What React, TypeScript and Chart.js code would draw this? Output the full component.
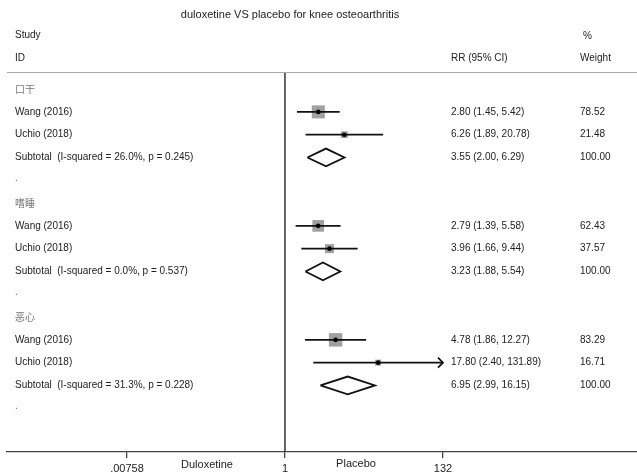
import React, { useEffect, useRef } from 'react';
import { Chart, registerables } from 'chart.js';

Chart.register(...registerables);

const TITLE = 'duloxetine VS placebo for knee osteoarthritis';
const GROUPS = ['口干', '嗜睡', '恶心'];
const STUDIES = ['Wang (2016)', 'Uchio (2018)'];
// per group: [Wang, Uchio]
const STUDY_RR = [2.80, 6.26, 2.79, 3.96, 4.78, 17.80];
const STUDY_LO = [1.45, 1.89, 1.39, 1.66, 1.86, 2.40];
const STUDY_HI = [5.42, 20.78, 5.58, 9.44, 12.27, 131.89];
const STUDY_W = [78.52, 21.48, 62.43, 37.57, 83.29, 16.71];
const SUB_RR = [3.55, 3.23, 6.95];
const SUB_LO = [2.00, 1.88, 2.99];
const SUB_HI = [6.29, 5.54, 16.15];
const SUB_LABELS = [
  'Subtotal  (I-squared = 26.0%, p = 0.245)',
  'Subtotal  (I-squared = 0.0%, p = 0.537)',
  'Subtotal  (I-squared = 31.3%, p = 0.228)',
];
const X_TICKS = [0.00758, 1, 132];
const X_TICK_LABELS = ['.00758', '1', '132'];
const X_LABEL_LEFT = 'Duloxetine';
const X_LABEL_RIGHT = 'Placebo';

const ROWS_PER_GROUP = 5;
const Y_MIN = -0.75;
const Y_MAX = 15.92;
const FONT = '"Liberation Sans", Arial, sans-serif';
const CJK = '"Noto Sans CJK SC", sans-serif';

const studyRow = (g: number, s: number) => g * ROWS_PER_GROUP + 1 + s;
const subRow = (g: number) => g * ROWS_PER_GROUP + 3;
const f2 = (v: number) => v.toFixed(2);

export default function App() {
  const ref = useRef<HTMLCanvasElement>(null);

  useEffect(() => {
    document.body.style.margin = '0';
    const canvas = ref.current!;
    const datasets: any[] = [];

    const dots: any[] = [];
    const squares: any[] = [];
    const radii: number[] = [];
    GROUPS.forEach((_, g) => {
      STUDIES.forEach((__, s) => {
        const i = g * STUDIES.length + s;
        const y = studyRow(g, s);
        dots.push({ x: STUDY_RR[i], y });
        squares.push({ x: STUDY_RR[i], y });
        radii.push(1.04 * Math.sqrt(STUDY_W[i]));
      });
    });

    datasets.push({
      data: dots,
      pointStyle: 'circle',
      pointRadius: 2.3,
      backgroundColor: '#000',
      borderWidth: 0,
      order: 0,
    });

    GROUPS.forEach((_, g) => {
      STUDIES.forEach((__, s) => {
        const i = g * STUDIES.length + s;
        const y = studyRow(g, s);
        datasets.push({
          data: [
            { x: STUDY_LO[i], y },
            { x: STUDY_HI[i], y },
          ],
          showLine: true,
          pointRadius: 0,
          borderColor: '#111',
          borderWidth: 1.8,
          order: 1,
        });
      });
      const y = subRow(g);
      const h = 0.39;
      datasets.push({
        data: [
          { x: SUB_LO[g], y },
          { x: SUB_RR[g], y: y - h },
          { x: SUB_HI[g], y },
          { x: SUB_RR[g], y: y + h },
          { x: SUB_LO[g], y },
        ],
        showLine: true,
        pointRadius: 0,
        borderColor: '#111',
        borderWidth: 1.8,
        borderJoinStyle: 'miter',
        fill: false,
        tension: 0,
        order: 1,
      });
    });

    datasets.push({
      data: squares,
      pointStyle: 'rect',
      pointRadius: radii,
      backgroundColor: '#a0a0a0',
      borderWidth: 0,
      order: 2,
    });

    datasets.push({
      data: [
        { x: 1, y: Y_MIN },
        { x: 1, y: Y_MAX },
      ],
      showLine: true,
      pointRadius: 0,
      borderColor: '#333',
      borderWidth: 1.5,
      order: 3,
    });

    const textPlugin = {
      id: 'forestText',
      afterDraw(chart: any) {
        const ctx = chart.ctx;
        const area = chart.chartArea;
        const xs = chart.scales.x;
        const ys = chart.scales.y;
        ctx.save();
        // header rule
        ctx.strokeStyle = '#aaa';
        ctx.lineWidth = 1;
        ctx.beginPath();
        ctx.moveTo(area.left, area.top + 0.5);
        ctx.lineTo(area.right, area.top + 0.5);
        ctx.stroke();

        ctx.fillStyle = '#222';
        ctx.textBaseline = 'middle';
        ctx.font = `11px ${FONT}`;
        ctx.textAlign = 'center';
        ctx.fillText(TITLE, 290, 15);

        ctx.textAlign = 'left';
        ctx.font = `10px ${FONT}`;
        ctx.fillText('Study', 15, 35);
        ctx.fillText('ID', 15, 58);
        ctx.fillText('%', 583, 36);
        ctx.fillText('RR (95% CI)', 451, 58);
        ctx.fillText('Weight', 580, 58);

        GROUPS.forEach((grp, g) => {
          const yh = ys.getPixelForValue(g * ROWS_PER_GROUP);
          ctx.fillStyle = '#777';
          ctx.font = `10px ${CJK}`;
          ctx.fillText(grp, 15, yh);
          ctx.fillStyle = '#222';
          ctx.font = `10px ${FONT}`;
          STUDIES.forEach((name, s) => {
            const i = g * STUDIES.length + s;
            const y = ys.getPixelForValue(studyRow(g, s));
            ctx.fillText(name, 15, y);
            ctx.fillText(`${f2(STUDY_RR[i])} (${f2(STUDY_LO[i])}, ${f2(STUDY_HI[i])})`, 451, y);
            ctx.fillText(f2(STUDY_W[i]), 580, y);
            if (STUDY_HI[i] >= X_TICKS[X_TICKS.length - 1] * 0.99) {
              const xh = xs.getPixelForValue(STUDY_HI[i]);
              ctx.strokeStyle = '#111';
              ctx.lineWidth = 1.8;
              ctx.beginPath();
              ctx.moveTo(xh - 5, y - 5);
              ctx.lineTo(xh, y);
              ctx.lineTo(xh - 5, y + 5);
              ctx.stroke();
            }
          });
          const ys2 = ys.getPixelForValue(subRow(g));
          ctx.fillText(SUB_LABELS[g], 15, ys2);
          ctx.fillText(`${f2(SUB_RR[g])} (${f2(SUB_LO[g])}, ${f2(SUB_HI[g])})`, 451, ys2);
          ctx.fillText('100.00', 580, ys2);
          ctx.fillStyle = '#777';
          ctx.fillText('.', 15, ys.getPixelForValue(subRow(g) + 1) - 2);
          ctx.fillStyle = '#222';
        });

        ctx.font = `11px ${FONT}`;
        ctx.textAlign = 'center';
        ctx.fillText(X_LABEL_LEFT, 207, 465);
        ctx.fillText(X_LABEL_RIGHT, 356, 464);
        ctx.restore();
      },
    };

    const chart = new Chart(canvas, {
      type: 'scatter',
      data: { datasets },
      options: {
        responsive: false,
        animation: false,
        events: [],
        layout: { autoPadding: false, padding: { left: 7, right: 0, top: 72, bottom: 0 } },
        plugins: { legend: { display: false }, tooltip: { enabled: false }, title: { display: false } },
        scales: {
          x: {
            type: 'logarithmic',
            min: 1.86e-4,
            max: 5.3e4,
            bounds: 'data',
            afterBuildTicks: (scale: any) => {
              scale.ticks = X_TICKS.map((v) => ({ value: v }));
            },
            afterFit: (scale: any) => {
              scale.paddingLeft = 0;
              scale.paddingRight = 0;
              scale.paddingTop = 0;
              scale.paddingBottom = 0;
              scale.height = 22;
            },
            ticks: {
              autoSkip: false,
              maxRotation: 0,
              padding: 4,
              color: '#222',
              font: { family: FONT, size: 11 },
              callback: (v: any) => {
                const k = X_TICKS.findIndex((t) => Math.abs(t - Number(v)) < 1e-9 * Math.max(1, t));
                return k >= 0 ? X_TICK_LABELS[k] : '';
              },
            },
            grid: { drawOnChartArea: false, drawTicks: true, tickLength: 6, color: '#444', lineWidth: 1.3 },
            border: { display: true, color: '#444', width: 1.3 },
          },
          y: {
            type: 'linear',
            display: false,
            reverse: true,
            min: Y_MIN,
            max: Y_MAX,
          },
        },
      },
      plugins: [textPlugin],
    } as any);

    return () => chart.destroy();
  }, []);

  return (
    <div style={{ width: 637, height: 474 }}>
      <canvas ref={ref} width={637} height={474} style={{ display: 'block' }} />
    </div>
  );
}
